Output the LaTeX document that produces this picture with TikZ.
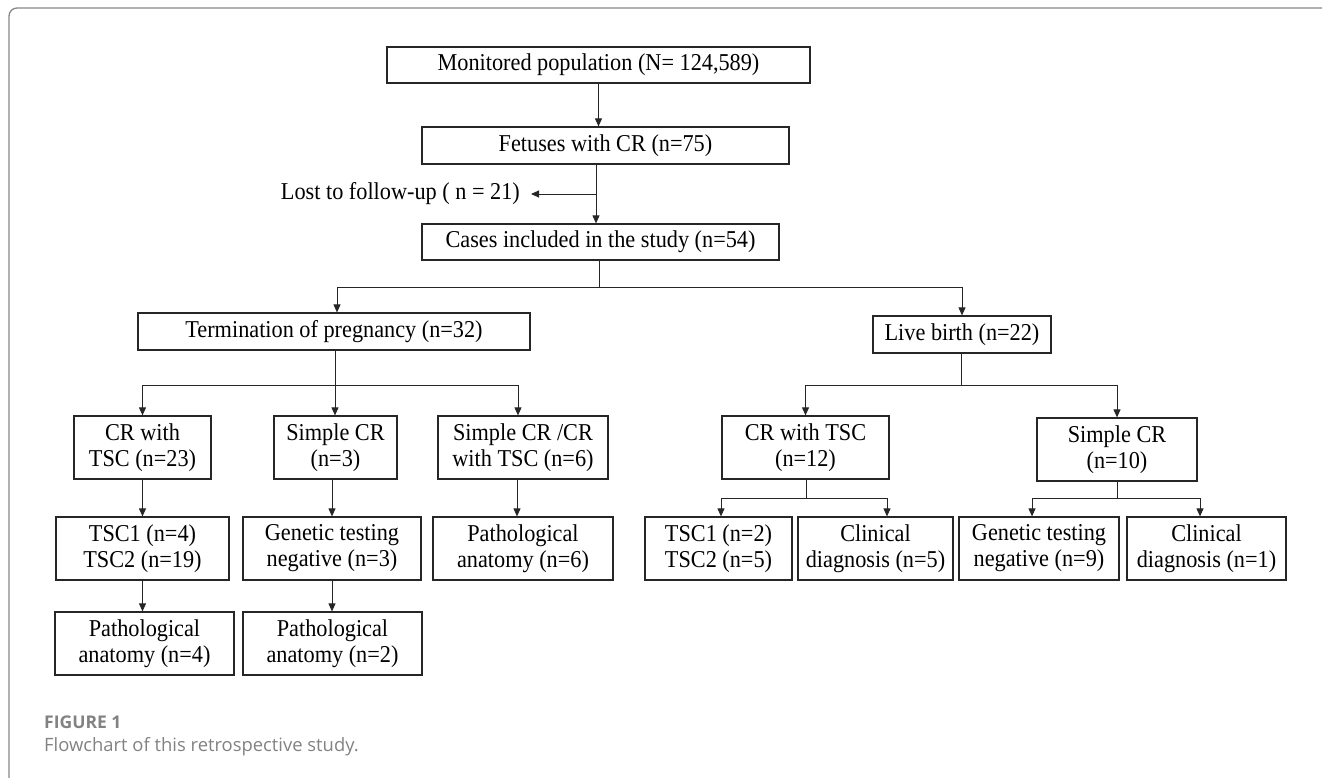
\documentclass[tikz,border=0pt]{standalone}
\usepackage{fontspec}
\setmainfont{Liberation Serif}[FakeStretch=0.92]
\newfontfamily\captionfont{Open Sans}
\usepackage{tikz}
\usetikzlibrary{arrows.meta}
\definecolor{framegray}{RGB}{135,135,135}
\definecolor{capgray}{RGB}{130,130,130}
\tikzset{stage/.style={draw=black!85, line width=1.2pt, inner sep=0pt, align=center, font=\fontsize{24.2}{26}\selectfont}}
\tikzset{note/.style={inner sep=0pt, font=\fontsize{24.2}{26}\selectfont}}
\tikzset{flow/.style={draw=black!85, line width=0.9pt, -{Triangle[length=8pt, width=7pt]}}}
\tikzset{flow line/.style={draw=black!85, line width=0.9pt}}

\begin{document}
\begin{tikzpicture}[x=1pt, y=-1pt]
            \useasboundingbox (0,0) rectangle (1322,778);
            \begin{scope}
                \clip (0,0) rectangle (1322,778);
                \draw[framegray, line width=1.3pt, rounded corners=8pt] (9,8) rectangle (1345,805);
            \end{scope}
            \node[stage, minimum width=423pt, minimum height=36pt] (mon) at (598.5,65) {Monitored population (N= 124,589)};
            \node[stage, minimum width=367pt, minimum height=37pt] (fet) at (605.5,145.5) {Fetuses with CR (n=75)};
            \node[note, anchor=east] (lost) at (520,194) {Lost to follow-up ( n = 21)};
            \node[stage, minimum width=357pt, minimum height=36pt] (cases) at (600.5,242) {Cases included in the study (n=54)};
            \node[stage, minimum width=392pt, minimum height=37pt] (term) at (334,331.5) {Termination of pregnancy (n=32)};
            \node[stage, minimum width=178pt, minimum height=37pt] (live) at (962,334.5) {Live birth (n=22)};
            \node[stage, minimum width=137pt, minimum height=63pt] (crtsc) at (142.5,447.5) {CR with\\TSC (n=23)};
            \node[stage, minimum width=123pt, minimum height=63pt] (simp) at (335.5,447.5) {Simple CR\\(n=3)};
            \node[stage, minimum width=170pt, minimum height=63pt] (mixed) at (523,447.5) {Simple CR /CR\\with TSC (n=6)};
            \node[stage, minimum width=167pt, minimum height=63pt] (crtscb) at (805.5,447.5) {CR with TSC\\(n=12)};
            \node[stage, minimum width=160pt, minimum height=63pt] (simpb) at (1117,449.5) {Simple CR\\(n=10)};
            \node[stage, minimum width=173pt, minimum height=63pt] (tscl) at (142.5,548.5) {TSC1 (n=4)\\TSC2 (n=19)};
            \node[stage, minimum width=178pt, minimum height=63pt] (genl) at (332,548.5) {Genetic testing\\negative (n=3)};
            \node[stage, minimum width=180pt, minimum height=63pt] (patm) at (523,548.5) {Pathological\\anatomy (n=6)};
            \node[stage, minimum width=147pt, minimum height=63pt] (tscr) at (718.5,548.5) {TSC1 (n=2)\\TSC2 (n=5)};
            \node[stage, minimum width=155pt, minimum height=63pt] (clinr) at (875.5,548.5) {Clinical\\diagnosis (n=5)};
            \node[stage, minimum width=160pt, minimum height=63pt] (genr) at (1039,548.5) {Genetic testing\\negative (n=9)};
            \node[stage, minimum width=159pt, minimum height=63pt] (clinb) at (1206.5,548.5) {Clinical\\diagnosis (n=1)};
            \node[stage, minimum width=179pt, minimum height=63pt] (path4) at (144.5,643.5) {Pathological\\anatomy (n=4)};
            \node[stage, minimum width=179pt, minimum height=63pt] (path2) at (332.5,643.5) {Pathological\\anatomy (n=2)};
            \node[anchor=base west, inner sep=0pt, text=capgray, font=\captionfont\bfseries\fontsize{17.5}{20}\selectfont] (figlabel) at (44,728) {FIGURE 1};
            \node[anchor=base west, inner sep=0pt, text=capgray, font=\captionfont\fontsize{18.4}{21}\selectfont] (figtitle) at (44,751) {Flowchart of this retrospective study.};
            \draw[flow] (mon) -- (mon |- fet.north);
            \draw[flow] ([xshift=-9.5pt]fet.south) -- ([xshift=-9.5pt]fet.south |- cases.north);
            \draw[flow] ([xshift=-9.5pt]fet.south |- lost.east) -- ([xshift=11pt]lost.east);
            \coordinate (split1) at (599,287);
            \draw[flow line] (cases.south -| split1) -- (split1);
            \draw[flow] (split1) -| ([xshift=3pt]term.north);
            \draw[flow] (split1) -| (live.north);
            \coordinate (split2) at (335,385);
            \draw[flow line] (term.south -| split2) -- (split2);
            \draw[flow] (split2) -| (crtsc.north);
            \draw[flow] (split2) -- (simp.north -| split2);
            \draw[flow] (split2) -| ([xshift=-5pt]mixed.north);
            \coordinate (split3) at (961,385);
            \draw[flow line] (live.south -| split3) -- (split3);
            \draw[flow] (split3) -| (crtscb.north);
            \draw[flow] (split3) -| (simpb.north);
            \draw[flow] (crtsc) -- (crtsc |- tscl.north);
            \draw[flow] (simp.south -| genl) -- (genl.north);
            \draw[flow] ([xshift=-6pt]mixed.south) -- ([xshift=-6pt]mixed.south |- patm.north);
            \coordinate (split4) at (806,498);
            \draw[flow line] (crtscb.south -| split4) -- (split4);
            \draw[flow] (split4) -| ([xshift=2.5pt]tscr.north);
            \draw[flow] (split4) -| ([xshift=11.5pt]clinr.north);
            \coordinate (split5) at (1117,498);
            \draw[flow line] (simpb.south) -- (split5);
            \draw[flow] (split5) -| ([xshift=-7pt]genr.north);
            \draw[flow] (split5) -| ([xshift=-6.5pt]clinb.north);
            \draw[flow] (tscl) -- (tscl |- path4.north);
            \draw[flow] (genl) -- (genl |- path2.north);
        \end{tikzpicture}
\end{document}
